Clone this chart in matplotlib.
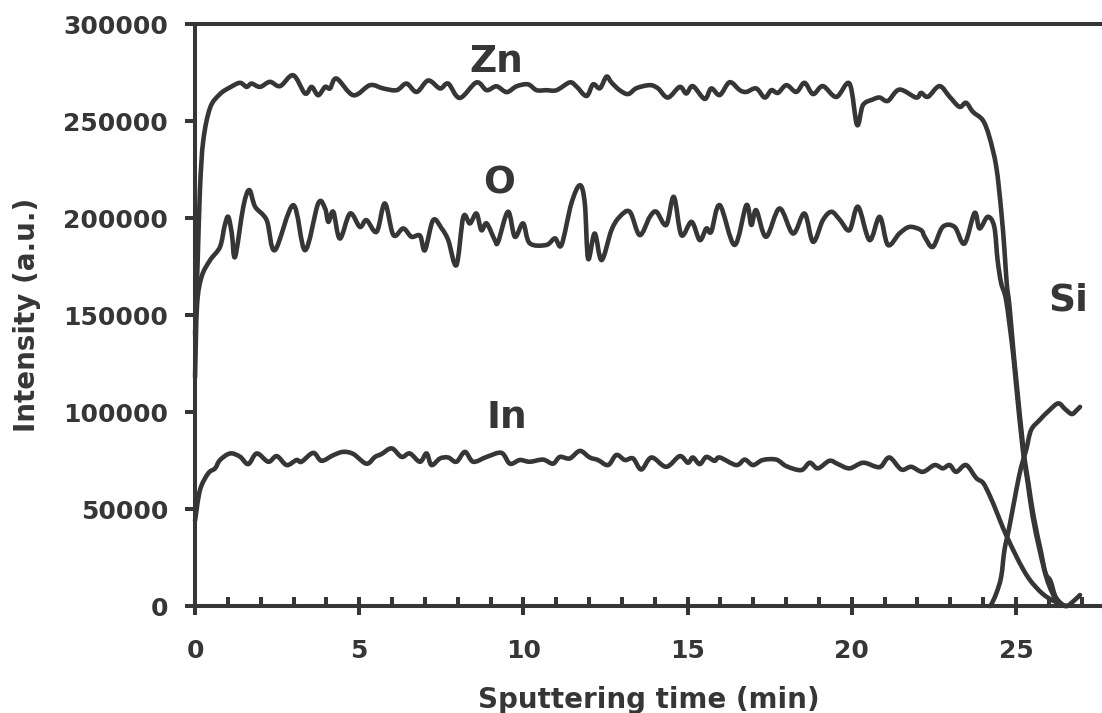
import matplotlib
matplotlib.use("Agg")
import matplotlib.pyplot as plt
import numpy as np
from matplotlib.path import Path
from matplotlib.patches import PathPatch
from matplotlib.ticker import MultipleLocator

# depth profile: sputtering time (min) vs intensity (a.u.)
zn_time = [0.00, 0.08, 0.15, 0.25, 0.46, 0.76, 1.07, 1.37, 1.57, 1.72, 1.98, 2.28, 2.59, 2.99,
           3.35, 3.55, 3.75, 3.96, 4.11, 4.31, 4.82, 5.33, 5.73, 6.14, 6.44, 6.75, 7.10, 7.46,
           7.71, 8.06, 8.57, 8.88, 9.18, 9.49, 9.79, 10.14, 10.40, 10.70, 11.01, 11.41, 11.61,
           11.92, 12.12, 12.33, 12.53, 12.68, 12.93, 13.19, 13.44, 13.85, 14.10, 14.40, 14.76,
           14.96, 15.16, 15.52, 15.72, 15.98, 16.28, 16.59, 16.79, 17.09, 17.35, 17.55, 17.75,
           18.01, 18.31, 18.56, 18.82, 19.12, 19.53, 19.93, 20.16, 20.34, 20.64, 20.85, 21.10,
           21.45, 21.96, 22.11, 22.32, 22.67, 22.98, 23.28, 23.48, 23.69, 23.99, 24.19, 24.40,
           24.55, 24.65, 24.72, 24.80, 24.92, 25.02, 25.23, 25.38, 25.54, 25.75, 25.90, 26.05,
           26.20, 26.40, 26.55]
zn = [140000, 178000, 215000, 240000, 257000, 264000, 267500, 269800, 267700, 269400, 267700,
      270300, 268100, 273700, 264300, 267700, 263400, 267700, 266900, 272000, 263400, 268600,
      266900, 266000, 269400, 265100, 271000, 266900, 269400, 262000, 270000, 266000, 268000,
      265000, 268000, 269000, 266000, 266000, 266000, 270000, 268000, 263000, 269000, 267000,
      273000, 270000, 266000, 264000, 267000, 268600, 266900, 262200, 267700, 264300, 268100,
      261500, 266900, 263500, 270100, 266000, 265100, 266900, 262200, 266000, 264600, 268600,
      265100, 269800, 264000, 268100, 262500, 269400, 248100, 258300, 261200, 262200, 260500,
      266300, 262200, 264600, 262600, 268100, 262600, 257400, 259500, 254800, 250500, 241900,
      226500, 204000, 183500, 166000, 155000, 132000, 114800, 80400, 63300, 46000, 28900,
      17000, 13000, 5000, 1000, 0]

o_time = [0.00, 0.06, 0.20, 0.46, 0.76, 0.90, 1.01, 1.12, 1.22, 1.47, 1.65, 1.83, 2.18, 2.43,
          2.99, 3.35, 3.75, 3.96, 4.06, 4.21, 4.41, 4.72, 5.02, 5.22, 5.53, 5.78, 6.04, 6.34,
          6.59, 6.85, 7.00, 7.25, 7.51, 7.71, 7.96, 8.17, 8.37, 8.57, 8.72, 8.88, 9.13, 9.23,
          9.53, 9.74, 9.99, 10.19, 10.70, 10.96, 11.16, 11.46, 11.72, 11.87, 11.97, 12.17,
          12.38, 12.68, 12.93, 13.24, 13.54, 13.85, 14.05, 14.35, 14.58, 14.81, 15.12, 15.37,
          15.57, 15.72, 15.98, 16.43, 16.79, 16.94, 17.09, 17.39, 17.80, 18.21, 18.56, 18.82,
          19.12, 19.38, 19.63, 19.93, 20.19, 20.54, 20.85, 21.10, 21.45, 21.76, 22.11, 22.22,
          22.47, 22.77, 23.13, 23.43, 23.74, 23.89, 24.14, 24.34, 24.44, 24.55, 24.70, 24.90,
          25.00, 25.21, 25.36, 25.51, 25.72, 25.92, 26.10, 26.30, 26.54, 26.75, 26.95]
o = [118000, 155000, 169800, 178400, 185200, 196000, 200700, 192000, 180100, 205900, 214500,
     205900, 199000, 183500, 206700, 183500, 207600, 205000, 198100, 203300, 189500, 202400,
     195500, 199000, 193000, 207600, 191300, 194700, 190400, 191000, 183500, 199000, 194700,
     188700, 175800, 200700, 197300, 202400, 193800, 197300, 188700, 187800, 203300, 190400,
     197300, 187100, 186200, 189600, 186200, 207600, 217000, 207600, 179100, 192100, 178400,
     193800, 200700, 203300, 191300, 200700, 203300, 196500, 211000, 191300, 198100, 188700,
     194700, 193000, 206700, 186200, 206700, 196500, 204100, 190400, 205000, 192100, 202400,
     187800, 199000, 203300, 199300, 193800, 205900, 188700, 200700, 186200, 192100, 195500,
     193800, 190400, 185200, 195500, 195500, 186900, 202700, 194700, 200700, 195500, 178400,
     166400, 157700, 132000, 114800, 80400, 63300, 46000, 28900, 15100, 7000, 1400, 0, 2500,
     5700]

in_time = [0.00, 0.15, 0.40, 0.61, 0.76, 1.07, 1.37, 1.62, 1.88, 2.23, 2.49, 2.79, 3.09, 3.24,
           3.60, 3.85, 4.21, 4.51, 4.82, 5.22, 5.48, 5.68, 5.99, 6.29, 6.54, 6.85, 7.05, 7.20,
           7.46, 7.71, 7.96, 8.22, 8.47, 8.88, 9.33, 9.59, 9.89, 10.19, 10.60, 10.90, 11.11,
           11.41, 11.72, 12.02, 12.27, 12.58, 12.83, 13.09, 13.34, 13.59, 13.90, 14.35, 14.76,
           15.01, 15.16, 15.37, 15.57, 15.82, 15.98, 16.48, 16.74, 16.99, 17.29, 17.70, 18.01,
           18.46, 18.72, 18.97, 19.32, 19.58, 19.93, 20.34, 20.74, 20.90, 21.15, 21.51, 21.81,
           22.16, 22.52, 22.77, 22.98, 23.18, 23.48, 23.79, 24.00, 24.20, 24.40, 24.60, 24.80,
           25.00, 25.20, 25.40, 25.60, 25.80, 26.00, 26.20, 26.40]
indium = [44000, 59800, 68400, 71000, 75300, 78700, 77000, 73200, 78700, 74400, 77300, 72700,
          75300, 74400, 79000, 74900, 77800, 79500, 78400, 73400, 76900, 78400, 81300, 76900,
          78700, 74400, 78700, 72700, 76100, 76600, 74400, 79500, 74400, 76900, 79000, 73400,
          75300, 74400, 75500, 73400, 76900, 76100, 80000, 76600, 75300, 72700, 77900, 75300,
          76100, 70400, 76600, 71800, 77300, 73900, 76600, 73200, 76900, 74900, 76600, 72700,
          75500, 72700, 75300, 75500, 72100, 70100, 73900, 71000, 74900, 73200, 71000, 73900,
          71800, 72100, 76600, 70400, 71800, 69200, 72700, 71000, 72700, 69200, 72700, 66000,
          63500, 57000, 49000, 40500, 33000, 26000, 19500, 14000, 9900, 6500, 4000, 2200, 500]

si_time = [24.20, 24.24, 24.40, 24.55, 24.65, 24.80, 25.01, 25.16, 25.31, 25.46, 25.72, 26.02,
           26.29, 26.50, 26.70, 26.85, 26.95]
si = [0, 500, 6500, 15100, 28900, 40900, 59800, 71800, 80400, 90700, 95900, 101000, 104500,
      101500, 99000, 101000, 102700]

# element labels: (text, time, intensity at baseline)
labels = [("Zn", 9.18, 275300), ("O", 9.26, 212700), ("In", 9.49, 91800), ("Si", 26.6, 152600)]

ink = "#363636"


def smooth_path(t, v):
    # Catmull-Rom through the samples, written as cubic Bezier segments
    p = np.column_stack([t, v]).astype(float)
    ext = np.vstack([p[0], p, p[-1]])
    verts = [p[0]]
    codes = [Path.MOVETO]
    for i in range(1, len(ext) - 2):
        p0, p1, p2, p3 = ext[i - 1], ext[i], ext[i + 1], ext[i + 2]
        c1 = p1 + (p2 - p0) / 6.0
        c2 = p2 - (p3 - p1) / 6.0
        c1[1] = max(c1[1], 0.0)
        c2[1] = max(c2[1], 0.0)
        verts += [c1, c2, p2]
        codes += [Path.CURVE4] * 3
    return Path(verts, codes)


plt.rcParams["font.family"] = ["DejaVu Sans"]
plt.rcParams["font.weight"] = "bold"

fig = plt.figure(figsize=(11.02, 7.13), dpi=100)
ax = fig.add_axes([0.177, 0.150, 0.823, 0.816])

for t, v in [(zn_time, zn), (o_time, o), (in_time, indium), (si_time, si)]:
    ax.add_patch(PathPatch(smooth_path(t, v), fill=False, edgecolor=ink, lw=3.3,
                           joinstyle="round", capstyle="round", clip_on=False, zorder=3))

for text, t, v in labels:
    ax.text(t, v, text, fontsize=27, fontweight="bold", color=ink, ha="center", va="baseline")

ax.set_xlim(0, 27.62)
ax.set_ylim(0, 300000)
ax.xaxis.set_major_locator(MultipleLocator(5))
ax.xaxis.set_minor_locator(MultipleLocator(1))
ax.yaxis.set_major_locator(MultipleLocator(50000))

for side in ("left", "top", "bottom"):
    ax.spines[side].set_linewidth(2.9)
    ax.spines[side].set_color(ink)
ax.spines["right"].set_visible(False)

ax.tick_params(axis="x", which="major", direction="inout", length=13, width=2.9, color=ink,
               labelsize=18, labelcolor=ink, pad=17)
ax.tick_params(axis="x", which="minor", direction="in", length=6.5, width=2.9, color=ink)
ax.tick_params(axis="y", which="major", direction="out", length=7.5, width=2.9, color=ink,
               labelsize=18, labelcolor=ink, pad=12)

ax.set_xlabel("Sputtering time (min)", fontsize=20, fontweight="bold", color=ink, labelpad=17)
ax.set_ylabel("Intensity (a.u.)", fontsize=20, fontweight="bold", color=ink, labelpad=16)

fig.savefig("out.png", dpi=100, facecolor="white")
